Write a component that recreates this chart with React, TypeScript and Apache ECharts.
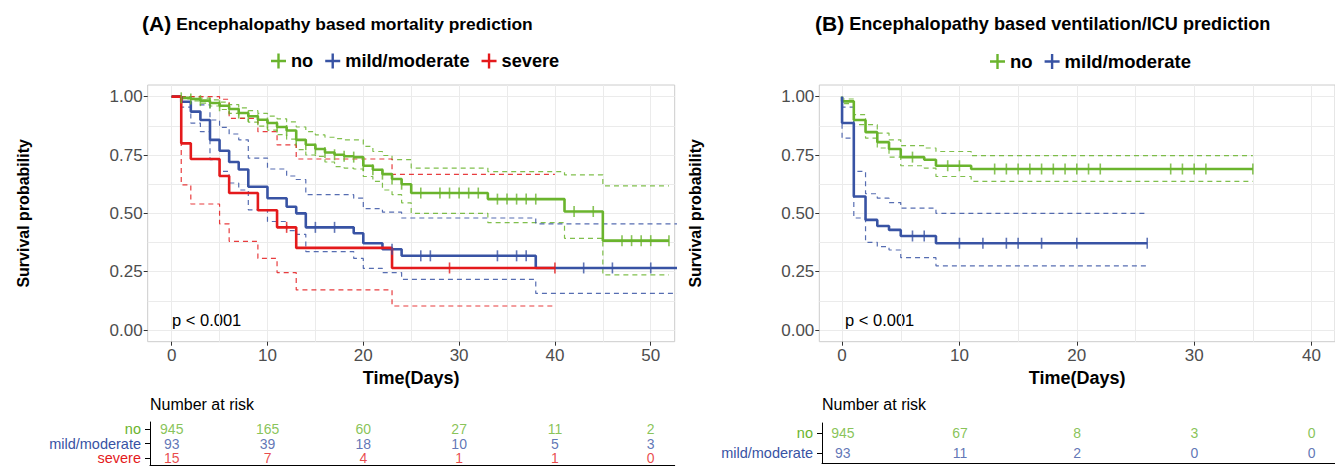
import React, { useEffect, useRef } from 'react';
import * as echarts from 'echarts';

const FONT = '"Liberation Sans", Arial, Helvetica, sans-serif';
const GREEN = '#6AB42D';
const BLUE = '#3853A4';
const RED = '#E41A1C';

// ---------- Panel A : mortality ----------
const aNoT = [0, 1, 2, 3, 4, 5, 6, 7, 8, 9, 10, 11, 12, 13, 14, 15, 16, 17, 18, 19, 20, 21, 22, 23, 24, 25, 33, 41, 45, 51.9];
const aNoS = [1, 0.995, 0.99, 0.983, 0.973, 0.961, 0.947, 0.93, 0.916, 0.901, 0.887, 0.87, 0.855, 0.815, 0.794, 0.776, 0.761, 0.751, 0.745, 0.741, 0.704, 0.687, 0.668, 0.647, 0.625, 0.587, 0.561, 0.508, 0.383, 0.383];
const aNoLo = [1, 0.99, 0.982, 0.972, 0.96, 0.945, 0.928, 0.908, 0.891, 0.874, 0.857, 0.837, 0.818, 0.773, 0.75, 0.744, 0.72, 0.7, 0.694, 0.69, 0.658, 0.637, 0.6, 0.58, 0.545, 0.5, 0.46, 0.393, 0.236, 0.236];
const aNoHi = [1, 1, 0.998, 0.994, 0.986, 0.977, 0.966, 0.952, 0.94, 0.928, 0.917, 0.905, 0.892, 0.87, 0.85, 0.836, 0.826, 0.82, 0.815, 0.815, 0.787, 0.765, 0.748, 0.73, 0.73, 0.694, 0.679, 0.665, 0.618, 0.618];
const aNoCens = [1, 2, 3, 4, 5, 6, 7, 8, 9, 10, 11, 12, 13, 14, 15, 16, 17, 18, 19, 20, 21, 22, 23, 24, 26, 28, 29, 30, 31, 32, 34, 35, 36, 37, 38, 42, 44, 47, 48, 49, 50, 51.9];

const aMildT = [0, 1, 2, 3, 4, 5, 6, 7, 8, 10, 12, 13, 14, 19, 20, 22, 24, 38, 53];
const aMildS = [1, 0.978, 0.936, 0.9, 0.815, 0.768, 0.72, 0.688, 0.614, 0.565, 0.528, 0.5, 0.44, 0.415, 0.372, 0.346, 0.318, 0.266, 0.266];
const aMildLo = [1, 0.955, 0.887, 0.85, 0.73, 0.68, 0.63, 0.6, 0.515, 0.465, 0.426, 0.41, 0.336, 0.307, 0.264, 0.246, 0.217, 0.157, 0.157];
const aMildHi = [1, 1, 0.99, 0.965, 0.9, 0.868, 0.84, 0.815, 0.737, 0.69, 0.66, 0.645, 0.58, 0.565, 0.52, 0.505, 0.48, 0.455, 0.455];
const aMildCens = [15, 17, 23, 26, 27, 34, 36, 37, 43, 46, 50];

const aSevT = [0, 1, 2, 5, 6, 9, 11, 13, 23, 40];
const aSevS = [1, 0.8, 0.733, 0.66, 0.587, 0.513, 0.44, 0.352, 0.266, 0.266];
const aSevLo = [1, 0.622, 0.54, 0.455, 0.38, 0.307, 0.246, 0.172, 0.103, 0.103];
const aSevHi = [1, 1, 1, 0.989, 0.907, 0.85, 0.793, 0.733, 0.667, 0.667];
const aSevCens = [12, 29, 40];

const aRiskTimes = [0, 10, 20, 30, 40, 50];
const aRiskNo = [945, 165, 60, 27, 11, 2];
const aRiskMild = [93, 39, 18, 10, 5, 3];
const aRiskSev = [15, 7, 4, 1, 1, 0];

// ---------- Panel B : ventilation / ICU ----------
const bNoT = [0, 0, 1, 2, 3, 4, 5, 7, 8, 11, 35];
const bNoS = [1, 0.98, 0.9, 0.848, 0.805, 0.776, 0.741, 0.73, 0.704, 0.69, 0.69];
const bNoLo = [1, 0.97, 0.88, 0.822, 0.78, 0.741, 0.704, 0.694, 0.658, 0.637, 0.637];
const bNoHi = [1, 0.99, 0.923, 0.88, 0.844, 0.815, 0.79, 0.78, 0.765, 0.747, 0.747];
const bNoCens = [6, 9, 10, 13, 14, 15, 16, 17, 18, 19, 20, 21, 22, 28, 29, 30, 31, 35];

const bMildT = [0, 0, 1, 2, 3, 4, 5, 8, 26];
const bMildS = [1, 0.887, 0.572, 0.472, 0.446, 0.429, 0.403, 0.372, 0.372];
const bMildLo = [1, 0.822, 0.48, 0.376, 0.357, 0.343, 0.31, 0.275, 0.275];
const bMildHi = [1, 0.955, 0.68, 0.584, 0.565, 0.546, 0.522, 0.5, 0.5];
const bMildCens = [6, 7, 10, 12, 14, 15, 17, 20, 26];

const bRiskTimes = [0, 10, 20, 30, 40];
const bRiskNo = [945, 67, 8, 3, 0];
const bRiskMild = [93, 11, 2, 0, 0];

const yLabelVals = [0, 0.25, 0.5, 0.75, 1];
const yGridVals = [0, 0.125, 0.25, 0.375, 0.5, 0.625, 0.75, 0.875, 1];
const aXLabelVals = [0, 10, 20, 30, 40, 50];
const aXGridVals = [0, 5, 10, 15, 20, 25, 30, 35, 40, 45, 50];
const bXLabelVals = [0, 10, 20, 30, 40];
const bXGridVals = [0, 5, 10, 15, 20, 25, 30, 35, 40];

const PLUS = 'path://M4.2,0L5.8,0L5.8,4.2L10,4.2L10,5.8L5.8,5.8L5.8,10L4.2,10L4.2,5.8L0,5.8L0,4.2L4.2,4.2Z';

function survAt(ts: number[], ss: number[], t: number) {
  let v = ss[0];
  for (let i = 0; i < ts.length; i++) if (ts[i] <= t) v = ss[i];
  return v;
}

function stepLine(name: string, ts: number[], ss: number[], color: string, ax: number, dashed: boolean) {
  return {
    type: 'line',
    name,
    data: ts.map((t, i) => [t, ss[i]]),
    step: 'end',
    symbol: 'none',
    showSymbol: false,
    silent: true,
    clip: true,
    xAxisIndex: ax,
    yAxisIndex: ax,
    itemStyle: { color },
    lineStyle: dashed
      ? { color, width: 1.2, type: [5, 4], opacity: 0.85 }
      : { color, width: 2.6 },
    z: dashed ? 2 : 4,
  };
}

function censor(name: string, cs: number[], ts: number[], ss: number[], color: string, ax: number) {
  return {
    type: 'scatter',
    name,
    data: cs.map((t) => [t, survAt(ts, ss, t)]),
    symbol: 'rect',
    symbolSize: [1.6, 11],
    silent: true,
    xAxisIndex: ax,
    yAxisIndex: ax,
    itemStyle: { color },
    z: 5,
  };
}

function riskRow(name: string, times: number[], vals: number[], row: string, color: string, ax: number) {
  return {
    type: 'scatter',
    name,
    data: times.map((t, i) => [t, row, vals[i]]),
    symbolSize: 0,
    silent: true,
    xAxisIndex: ax,
    yAxisIndex: ax,
    label: {
      show: true,
      position: 'inside',
      formatter: (p: any) => String(p.value[2]),
      color,
      fontSize: 14,
      lineHeight: 13,
      fontFamily: FONT,
    },
  };
}

function gridAxisX(gi: number, min: number, max: number, vals: number[]) {
  return {
    type: 'value', gridIndex: gi, min, max, position: 'bottom',
    axisLine: { show: false, onZero: false }, axisLabel: { show: false },
    axisTick: { show: false, customValues: vals },
    splitLine: { show: true, lineStyle: { color: '#EBEBEB', width: 1 } },
  };
}
function labelAxisX(gi: number, min: number, max: number, vals: number[]) {
  return {
    type: 'value', gridIndex: gi, min, max, position: 'bottom',
    name: 'Time(Days)', nameLocation: 'middle', nameGap: 26,
    nameTextStyle: { fontFamily: FONT, fontWeight: 'bold', fontSize: 18, color: '#000' },
    axisLine: { show: false, onZero: false },
    axisTick: { show: true, customValues: vals, length: 4, lineStyle: { color: '#333' } },
    axisLabel: { show: true, customValues: vals, fontFamily: FONT, fontSize: 17, color: '#4D4D4D', margin: 5 },
    splitLine: { show: false },
  };
}
function gridAxisY(gi: number) {
  return {
    type: 'value', gridIndex: gi, min: -0.05, max: 1.05, position: 'left',
    axisLine: { show: false, onZero: false }, axisLabel: { show: false },
    axisTick: { show: false, customValues: yGridVals },
    splitLine: { show: true, lineStyle: { color: '#EBEBEB', width: 1 } },
  };
}
function labelAxisY(gi: number, gap: number) {
  return {
    type: 'value', gridIndex: gi, min: -0.05, max: 1.05, position: 'left',
    name: 'Survival probability', nameLocation: 'middle', nameGap: gap, nameRotate: 90,
    nameTextStyle: { fontFamily: FONT, fontWeight: 'bold', fontSize: 16, color: '#000' },
    axisLine: { show: false, onZero: false },
    axisTick: { show: true, customValues: yLabelVals, length: 4, lineStyle: { color: '#333' } },
    axisLabel: {
      show: true, customValues: yLabelVals, fontFamily: FONT, fontSize: 17, color: '#4D4D4D', margin: 5,
      formatter: (v: number) => v.toFixed(2),
    },
    splitLine: { show: false },
  };
}
function riskAxisY(gi: number, cats: string[]) {
  const key: Record<string, string> = { no: 'g', 'mild/moderate': 'b', severe: 'r' };
  const st = (c: string) => ({ color: c, fontSize: 14.5, lineHeight: 13, fontFamily: FONT });
  return {
    type: 'category', gridIndex: gi, data: cats, inverse: true, position: 'left',
    axisLine: { show: true, onZero: false, lineStyle: { color: '#000', width: 1 } },
    axisTick: { show: true, length: 5, alignWithLabel: true, lineStyle: { color: '#000' } },
    axisLabel: {
      margin: 9,
      interval: 0,
      formatter: (v: string) => `{${key[v]}|${v}}`,
      rich: { g: st(GREEN), b: st(BLUE), r: st(RED) },
    },
    splitLine: { show: false },
  };
}
function riskAxisX(gi: number, min: number, max: number) {
  return {
    type: 'value', gridIndex: gi, min, max, position: 'bottom',
    axisLine: { show: true, onZero: false, lineStyle: { color: '#000', width: 1 } },
    axisTick: { show: false }, axisLabel: { show: false }, splitLine: { show: false },
  };
}

export default function App() {
  const ref = useRef<HTMLDivElement>(null);
  useEffect(() => {
    document.body.style.margin = '0';
    if (!ref.current) return;
    const chart = echarts.init(ref.current, null, { renderer: 'svg' });
    const richA = {
      a: { fontSize: 21, fontWeight: 'bold', fontFamily: FONT, color: '#000' },
      b: { fontSize: 17.4, fontWeight: 'bold', fontFamily: FONT, color: '#000' },
    };
    const richB = {
      a: { fontSize: 21, fontWeight: 'bold', fontFamily: FONT, color: '#000' },
      b: { fontSize: 18.1, fontWeight: 'bold', fontFamily: FONT, color: '#000' },
    };
    const legendTextA = { fontFamily: FONT, fontWeight: 'bold', fontSize: 18.2, color: '#000' };
    const legendTextB = { fontFamily: FONT, fontWeight: 'bold', fontSize: 18.5, color: '#000' };
    const option: any = {
      animation: false,
      backgroundColor: '#fff',
      title: [
        { text: '{a|(A)} {b|Encephalopathy based mortality prediction}', left: 137, top: 8, textStyle: { rich: richA } },
        { text: '{a|(B)} {b|Encephalopathy based ventilation/ICU prediction}', left: 810, top: 8, textStyle: { rich: richB } },
      ],
      legend: [
        { data: ['no', 'mild/moderate', 'severe'], left: 266, top: 47, icon: PLUS, itemWidth: 15, itemHeight: 15, itemGap: 12, selectedMode: false, textStyle: legendTextA },
        { data: ['no', 'mild/moderate'], left: 985, top: 47, icon: PLUS, itemWidth: 15, itemHeight: 15, itemGap: 12, selectedMode: false, textStyle: legendTextB },
      ],
      grid: [
        { left: 147.7, top: 85, width: 527, height: 256.7, show: true, borderColor: '#CCCCCC', borderWidth: 1, backgroundColor: 'transparent' },
        { left: 819.3, top: 85, width: 528, height: 256.7, show: true, borderColor: '#CCCCCC', borderWidth: 1, backgroundColor: 'transparent' },
        { left: 150, top: 422, width: 524.7, height: 43 },
        { left: 822, top: 423, width: 525.3, height: 40 },
      ],
      xAxis: [
        gridAxisX(0, -2.5, 52.5, aXGridVals),
        labelAxisX(0, -2.5, 52.5, aXLabelVals),
        gridAxisX(1, -1.94, 42, bXGridVals),
        labelAxisX(1, -1.94, 42, bXLabelVals),
        riskAxisX(2, -2.27, 52.5),
        riskAxisX(3, -1.78, 42),
      ],
      yAxis: [
        gridAxisY(0),
        labelAxisY(0, 116),
        gridAxisY(1),
        labelAxisY(1, 116),
        riskAxisY(2, ['no', 'mild/moderate', 'severe']),
        riskAxisY(3, ['no', 'mild/moderate']),
      ],
      graphic: [
        { type: 'text', left: 172, top: 311, style: { text: 'p < 0.001', fontFamily: FONT, fontSize: 16.5, fill: '#000' } },
        { type: 'text', left: 845, top: 311, style: { text: 'p < 0.001', fontFamily: FONT, fontSize: 16.5, fill: '#000' } },
        { type: 'text', left: 150, top: 396, style: { text: 'Number at risk', fontFamily: FONT, fontSize: 16, fill: '#000' } },
        { type: 'text', left: 822, top: 396, style: { text: 'Number at risk', fontFamily: FONT, fontSize: 16, fill: '#000' } },
      ],
      series: [
        // Panel A
        stepLine('no lower A', aNoT, aNoLo, GREEN, 0, true),
        stepLine('no upper A', aNoT, aNoHi, GREEN, 0, true),
        stepLine('mild lower A', aMildT, aMildLo, BLUE, 0, true),
        stepLine('mild upper A', aMildT, aMildHi, BLUE, 0, true),
        stepLine('severe lower A', aSevT, aSevLo, RED, 0, true),
        stepLine('severe upper A', aSevT, aSevHi, RED, 0, true),
        stepLine('no', aNoT, aNoS, GREEN, 0, false),
        stepLine('mild/moderate', aMildT, aMildS, BLUE, 0, false),
        stepLine('severe', aSevT, aSevS, RED, 0, false),
        censor('no cens A', aNoCens, aNoT, aNoS, GREEN, 0),
        censor('mild cens A', aMildCens, aMildT, aMildS, BLUE, 0),
        censor('severe cens A', aSevCens, aSevT, aSevS, RED, 0),
        // Panel B
        stepLine('no lower B', bNoT, bNoLo, GREEN, 2, true),
        stepLine('no upper B', bNoT, bNoHi, GREEN, 2, true),
        stepLine('mild lower B', bMildT, bMildLo, BLUE, 2, true),
        stepLine('mild upper B', bMildT, bMildHi, BLUE, 2, true),
        stepLine('no', bNoT, bNoS, GREEN, 2, false),
        stepLine('mild/moderate', bMildT, bMildS, BLUE, 2, false),
        censor('no cens B', bNoCens, bNoT, bNoS, GREEN, 2),
        censor('mild cens B', bMildCens, bMildT, bMildS, BLUE, 2),
        // Risk tables
        riskRow('risk A no', aRiskTimes, aRiskNo, 'no', GREEN, 4),
        riskRow('risk A mild', aRiskTimes, aRiskMild, 'mild/moderate', BLUE, 4),
        riskRow('risk A severe', aRiskTimes, aRiskSev, 'severe', RED, 4),
        riskRow('risk B no', bRiskTimes, bRiskNo, 'no', GREEN, 5),
        riskRow('risk B mild', bRiskTimes, bRiskMild, 'mild/moderate', BLUE, 5),
      ],
    };
    chart.setOption(option);
    return () => chart.dispose();
  }, []);
  return <div ref={ref} style={{ width: 1335, height: 466 }} />;
}
